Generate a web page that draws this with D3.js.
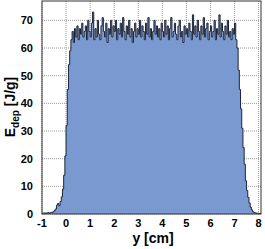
<!DOCTYPE html>
<html>
<head>
<meta charset="utf-8">
<script src="https://cdn.jsdelivr.net/npm/d3@7"></script>
<style>
    body { margin: 0; background: #fff; }
    text { font-family: "Liberation Sans", Arial, sans-serif; font-weight: bold; fill: #000; }
</style>
</head>
<body>
<svg id="chart"></svg>
<script>
var width = 265,
    height = 249

var margin = {left: 42, right: 4, top: 1, bottom: 35}

// histogram: bins of 0.05 cm starting at -1 cm
var binLow = -1, binWidth = 0.05

var edepRise = [0.3, 0.3, 0.4, 0.3, 0.4, 0.5, 0.4, 0.5, 0.6, 0.8,
    1.2, 1.8, 3.2, 3.8, 3.0, 4.5, 6.2, 9.0, 14, 21,
    32, 45, 54, 59, 63]

var edepPlateau = [66, 62, 67, 64, 68, 63, 67, 65, 69, 64, 66, 68, 63, 70, 66,
    64, 69, 73, 63, 67, 64, 70, 65, 63, 68, 71, 66, 64, 69, 62, 67, 65, 70, 64, 68,
    66, 70, 63, 67, 65, 69, 64, 71, 66, 63, 68, 65, 70, 64, 67, 62, 66, 69, 64, 67,
    65, 70, 64, 68, 66, 63, 69, 65, 71, 64, 67, 63, 66, 70, 65, 68, 64, 67, 63, 69,
    66, 64, 70, 65, 68, 63, 67, 71, 64, 66, 69, 65, 63, 68, 70, 64, 66, 62, 68, 65,
    67, 64, 69, 66, 63, 72, 65, 68, 64, 70, 66, 63, 68, 65, 71, 64, 67, 69, 63, 66,
    68, 64, 66, 70, 63, 67, 65, 72, 64, 69, 66, 63, 68, 65, 70, 64, 66, 63, 67, 65]

var edepFall = [69, 63, 60, 52, 45, 38, 31, 24, 18, 12,
    8.5, 6, 4, 2.5, 1.5, 0.8, 0.5, 0.4, 0.3, 0.3,
    0.2, 0.2]

var xTicks = [-1, 0, 1, 2, 3, 4, 5, 6, 7, 8]
var yTicks = [0, 10, 20, 30, 40, 50, 60, 70]

var edep = edepRise.concat(edepPlateau, edepFall)
var binHigh = binLow + edep.length * binWidth

var bins = edep.map(function(v, i){
    return {x: binLow + i * binWidth, v: v}
})
bins.push({x: binHigh, v: edep[edep.length - 1]})

var svg = d3.select("svg#chart")
    .attr("width", width)
    .attr("height", height)

var x = d3.scaleLinear()
    .domain([binLow, binHigh])
    .range([margin.left, width - margin.right])

var y = d3.scaleLinear()
    .domain([0, 77])
    .range([height - margin.bottom, margin.top])

// grid
svg.append("g").selectAll("line")
    .data(xTicks)
    .enter().append("line")
    .attr("x1", function(d){ return x(d) })
    .attr("x2", function(d){ return x(d) })
    .attr("y1", y(0))
    .attr("y2", y(77))
    .attr("stroke", "#999")
    .attr("stroke-dasharray", "1,1")

svg.append("g").selectAll("line")
    .data(yTicks)
    .enter().append("line")
    .attr("x1", x(binLow))
    .attr("x2", x(binHigh))
    .attr("y1", function(d){ return y(d) })
    .attr("y2", function(d){ return y(d) })
    .attr("stroke", "#999")
    .attr("stroke-dasharray", "1,1")

var area = d3.area()
    .curve(d3.curveStepAfter)
    .x(function(d){ return x(d.x) })
    .y0(y(0))
    .y1(function(d){ return y(d.v) })

svg.append("path")
    .datum(bins)
    .attr("d", area)
    .attr("fill", "#7b99d1")

var line = d3.line()
    .curve(d3.curveStepAfter)
    .x(function(d){ return x(d.x) })
    .y(function(d){ return y(d.v) })

svg.append("path")
    .datum(bins)
    .attr("d", line)
    .attr("fill", "none")
    .attr("stroke", "#1c2438")
    .attr("stroke-width", 1)

// frame
svg.append("rect")
    .attr("x", x(binLow))
    .attr("y", y(77))
    .attr("width", x(binHigh) - x(binLow))
    .attr("height", y(0) - y(77))
    .attr("fill", "none")
    .attr("stroke", "#333")
    .attr("stroke-width", 1)

svg.append("g").selectAll("text")
    .data(xTicks)
    .enter().append("text")
    .attr("x", function(d){ return x(d) })
    .attr("y", 227)
    .attr("text-anchor", "middle")
    .style("font-size", "11px")
    .text(function(d){ return d })

svg.append("g").selectAll("text")
    .data(yTicks)
    .enter().append("text")
    .attr("x", 33)
    .attr("y", function(d){ return y(d) + 4 })
    .attr("text-anchor", "end")
    .style("font-size", "11px")
    .text(function(d){ return d })

svg.append("text")
    .attr("x", 153)
    .attr("y", 243)
    .attr("text-anchor", "middle")
    .style("font-size", "14px")
    .text("y [cm]")

var ytitle = svg.append("text")
    .attr("transform", "translate(15,107) rotate(-90)")
    .attr("text-anchor", "middle")
    .style("font-size", "14px")

ytitle.append("tspan").text("E")
ytitle.append("tspan").attr("dy", 4).style("font-size", "10px").text("dep")
ytitle.append("tspan").attr("dy", -4).text(" [J/g]")
</script>
</body>
</html>
